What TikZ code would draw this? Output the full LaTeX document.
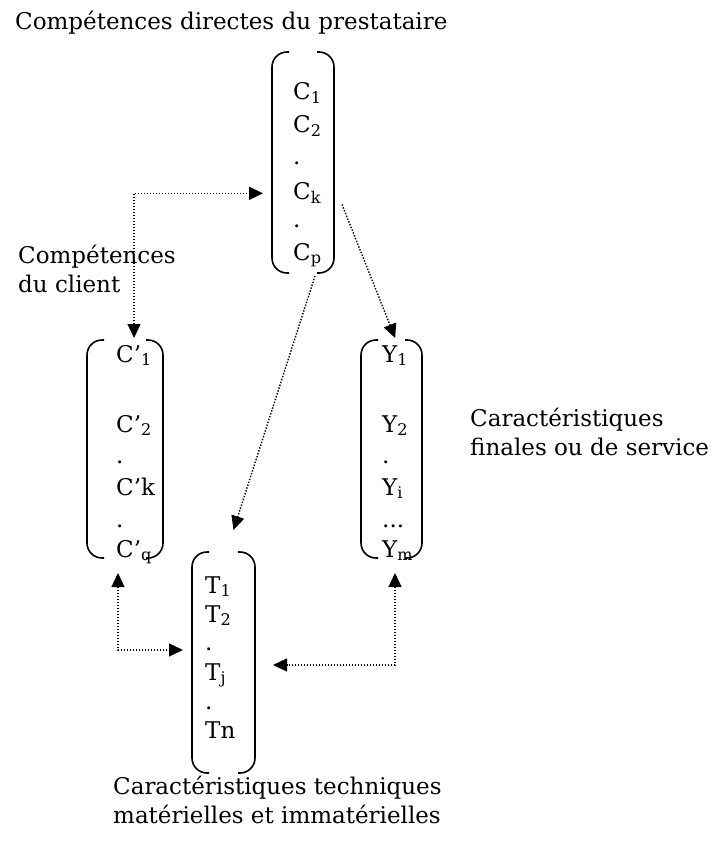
\documentclass[tikz,border=0pt]{standalone}
\usepackage{fontspec}
\setmainfont{DejaVu Serif}
\usetikzlibrary{arrows.meta}

% left and right bracket of a column box
\newcommand{\parens}[1]{%
  \draw [bracket] ([xshift=17pt]#1.north west) -- (#1.north west) -- (#1.south west) -- ([xshift=17pt]#1.south west);
  \draw [bracket] ([xshift=-17pt]#1.north east) -- (#1.north east) -- (#1.south east) -- ([xshift=-17pt]#1.south east);
}

\begin{document}
\begin{tikzpicture}[x=1pt, y=-1pt,
    font=\fontsize{23}{28.5}\selectfont,
    >={Triangle[length=14pt, width=13pt]},
    box/.style={inner sep=0pt, outer sep=0pt},
    entry/.style={anchor=base west, inner sep=0pt},
    label text/.style={anchor=base west, inner sep=0pt, align=left},
    bracket/.style={line width=1.6pt, rounded corners=15pt},
    link/.style={line width=1.4pt, dash pattern=on 1.4pt off 1.6pt}]
	\useasboundingbox (0, 0) rectangle (713, 842);
	% column boxes
	\node [box, minimum width=62pt, minimum height=221pt] (cbox) at (303, 162.5) {};
	\node [box, minimum width=76pt, minimum height=218pt] (cpbox) at (125, 449) {};
	\node [box, minimum width=61pt, minimum height=218pt] (ybox) at (391.5, 449) {};
	\node [box, minimum width=63pt, minimum height=221pt] (tbox) at (223.5, 662.5) {};
	\parens{cbox}
	\parens{cpbox}
	\parens{ybox}
	\parens{tbox}
	% competences du prestataire
	\node [entry] (c1) at (293, 100) {C\textsubscript{1}};
	\node [entry] (c2) at (293, 133) {C\textsubscript{2}};
	\node [entry] (cd1) at (293, 165) {.};
	\node [entry] (ck) at (293, 200) {C\textsubscript{k}};
	\node [entry] (cd2) at (293, 227) {.};
	\node [entry] (cp) at (293, 260) {C\textsubscript{p}};
	% competences du client
	\node [entry] (cp1) at (116, 362) {C’\textsubscript{1}};
	\node [entry] (cp2) at (116, 432) {C’\textsubscript{2}};
	\node [entry] (cpd1) at (116, 463) {.};
	\node [entry] (cpk) at (116, 495) {C’k};
	\node [entry] (cpd2) at (116, 527) {.};
	\node [entry] (cpq) at (116, 557) {C’\textsubscript{q}};
	% caracteristiques finales
	\node [entry] (y1) at (382, 362) {Y\textsubscript{1}};
	\node [entry] (y2) at (382, 432) {Y\textsubscript{2}};
	\node [entry] (yd) at (382, 463) {.};
	\node [entry] (yi) at (382, 495) {Y\textsubscript{i}};
	\node [entry] (ydots) at (382, 527) {...};
	\node [entry] (ym) at (382, 557) {Y\textsubscript{m}};
	% caracteristiques techniques
	\node [entry] (t1) at (205, 593) {T\textsubscript{1}};
	\node [entry] (t2) at (205, 622) {T\textsubscript{2}};
	\node [entry] (td1) at (205, 650) {.};
	\node [entry] (tj) at (205, 680) {T\textsubscript{j}};
	\node [entry] (td2) at (205, 709) {.};
	\node [entry] (tn) at (205, 738) {Tn};
	% labels (base is the last line)
	\node [label text] (top) at (15, 30) {Compétences directes du prestataire};
	\node [label text] (client) at (18, 292) {Compétences\\du client};
	\node [label text] (final) at (470, 455) {Caractéristiques\\finales ou de service};
	\node [label text] (tech) at (113, 823) {Caractéristiques techniques\\matérielles et immatérielles};
	% dotted links
	\draw [link, <->] ([yshift=2pt]cpbox.north -| cp1) |- ([xshift=-9pt]cbox.west |- ck);
	\draw [link, ->] ([shift={(8pt,-42pt)}]cbox.east) -- ([yshift=2pt]ybox.north -| y1);
	\draw [link, ->] ([shift={(12pt,-3pt)}]cbox.south) -- ([shift={(10pt,22pt)}]tbox.north);
	\draw [link, <->] ([shift={(-7pt,-15pt)}]cpbox.south) |- ([shift={(-9pt,12.5pt)}]tbox.west);
	\draw [link, <->] ([shift={(3.5pt,-15pt)}]ybox.south) |- ([shift={(18pt,-2.5pt)}]tbox.east);
\end{tikzpicture}
\end{document}
